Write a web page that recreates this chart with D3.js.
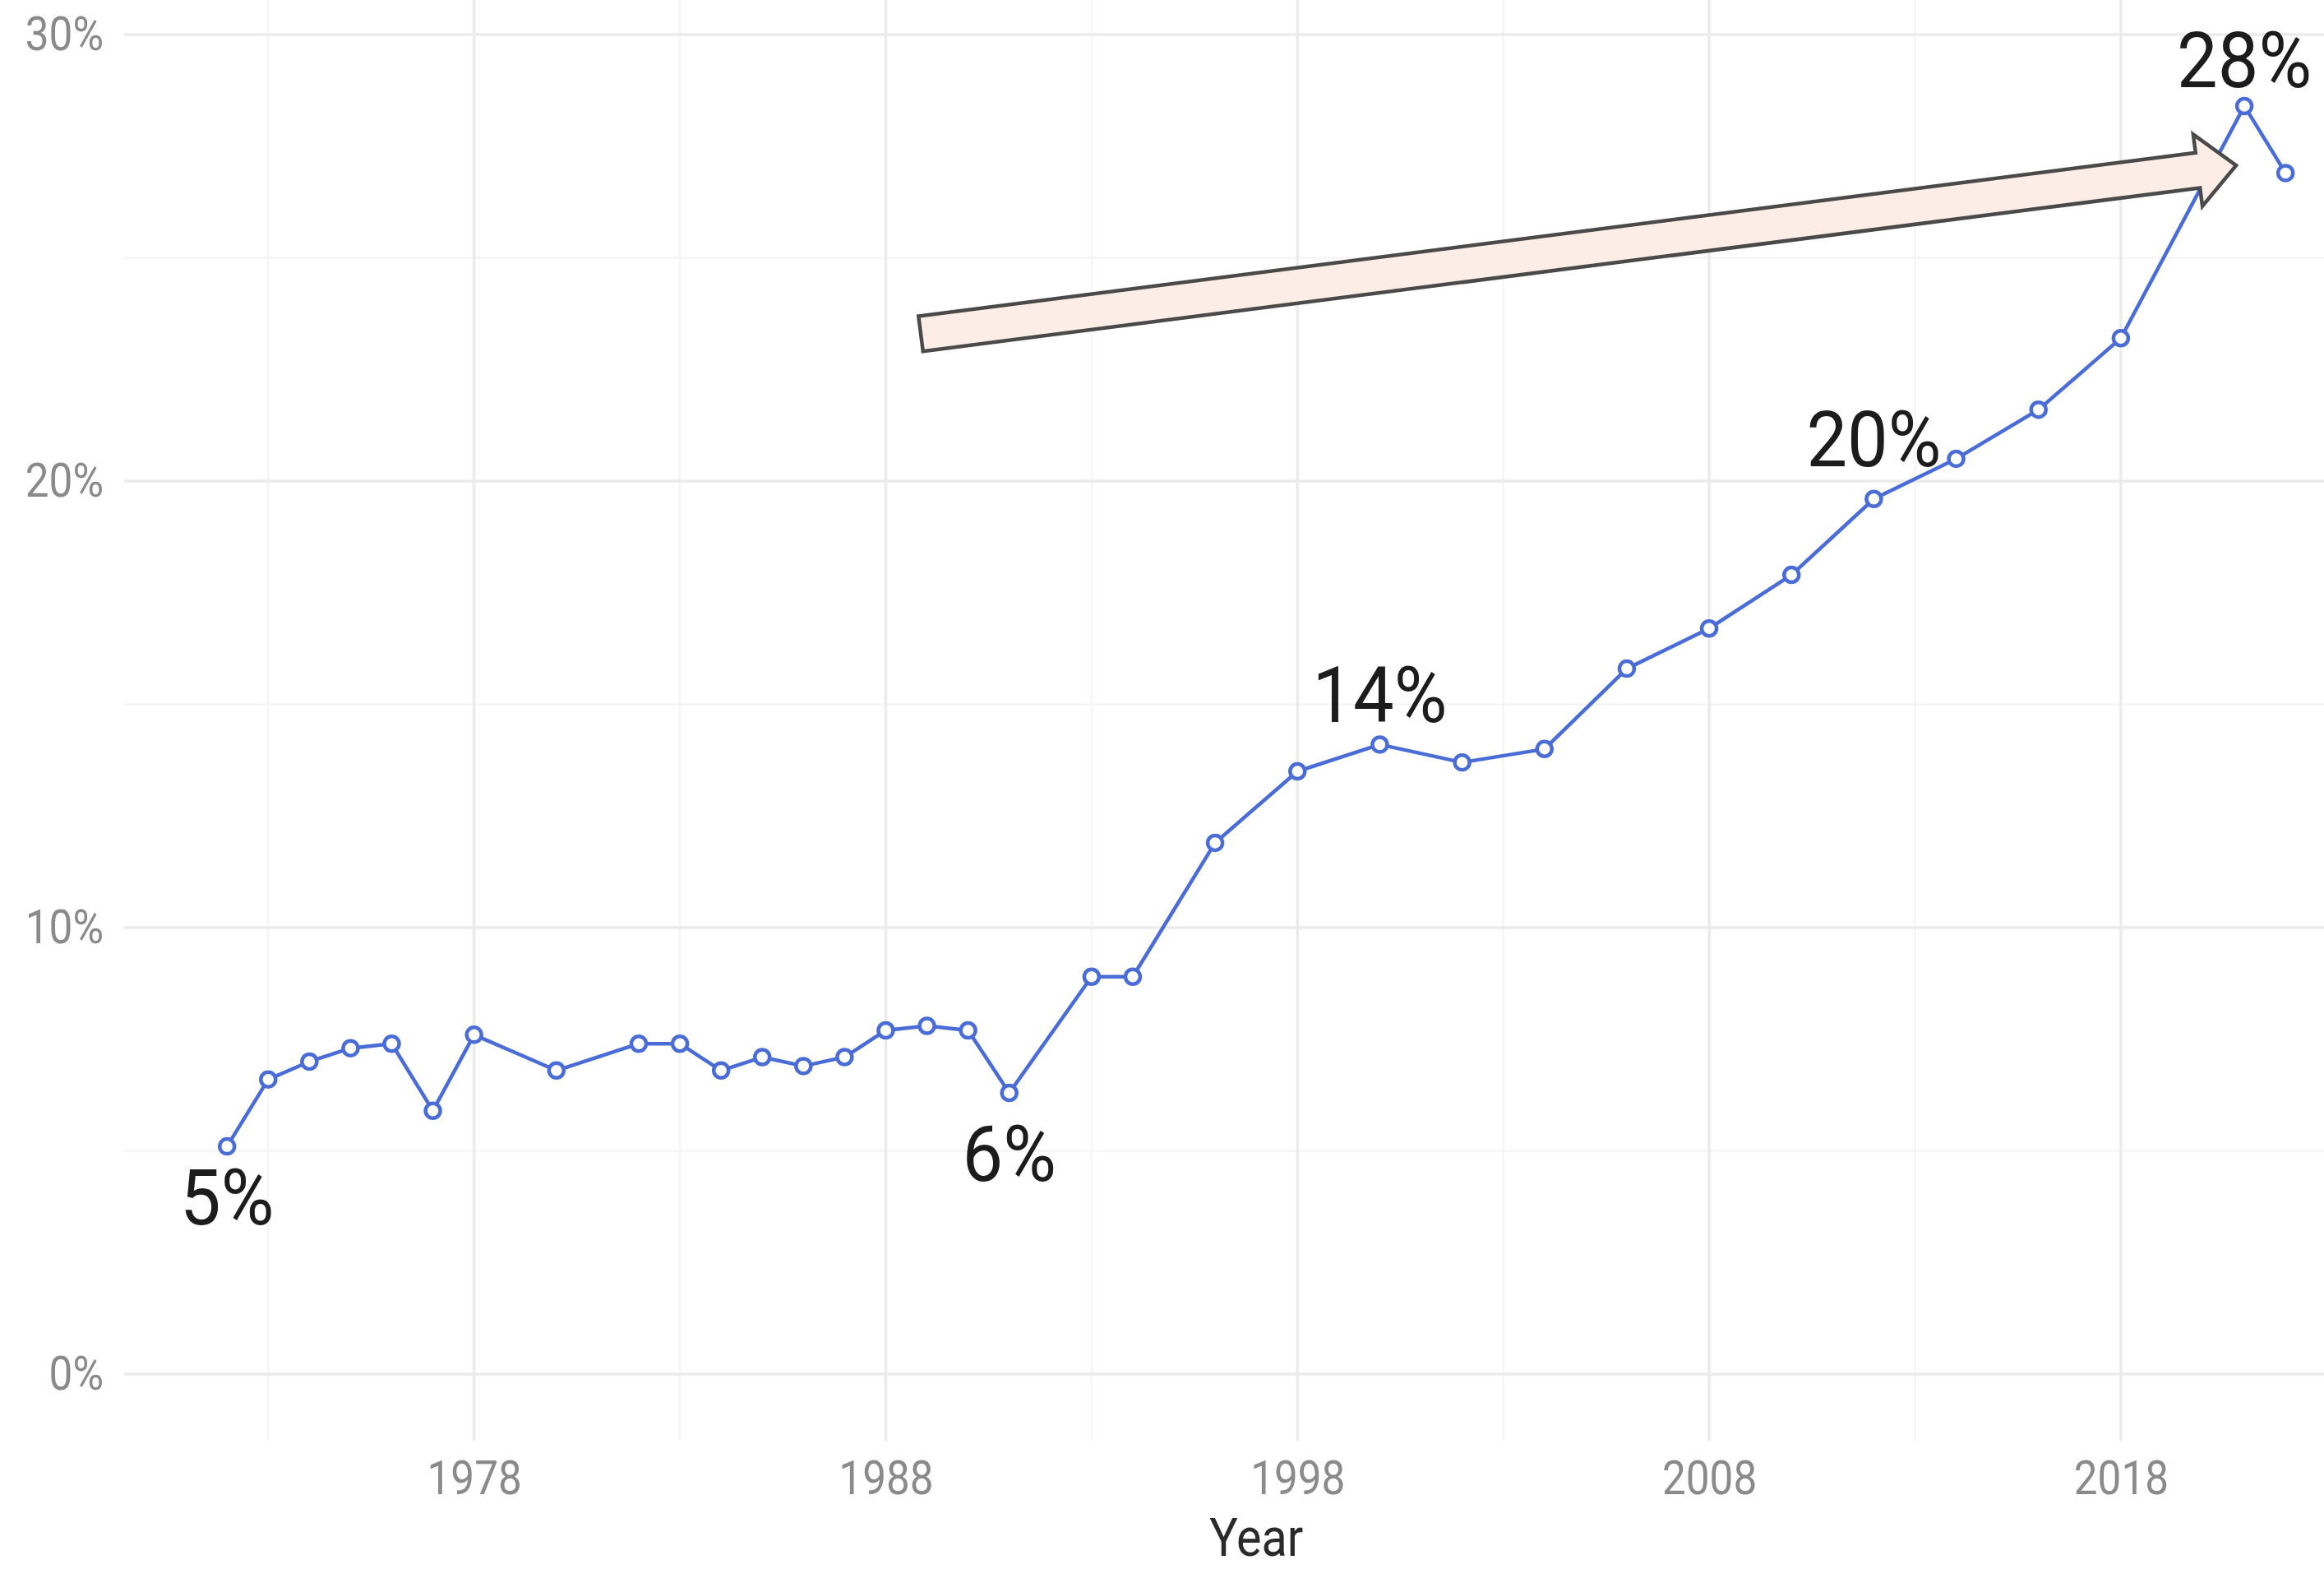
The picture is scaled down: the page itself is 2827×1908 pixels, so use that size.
<!DOCTYPE html>
<html>
<head>
<meta charset="utf-8">
<script src="https://cdn.jsdelivr.net/npm/d3@7"></script>
<style>
  html, body { margin: 0; padding: 0; background: #ffffff; }
  svg { display: block; }
</style>
</head>
<body>
<script>
// ---------- data ----------
const years = [1972,1973,1974,1975,1976,1977,1978,1980,1982,1983,1984,1985,1986,1987,1988,1989,1990,1991,1993,1994,1996,1998,2000,2002,2004,2006,2008,2010,2012,2014,2016,2018,2021,2022];
const shares = [5.1,6.6,7.0,7.3,7.4,5.9,7.6,6.8,7.4,7.4,6.8,7.1,6.9,7.1,7.7,7.8,7.7,6.3,8.9,8.9,11.9,13.5,14.1,13.7,14.0,15.8,16.7,17.9,19.6,20.5,21.6,23.2,28.4,26.9];
const xMajorTicks = [1978,1988,1998,2008,2018];
const xMinorTicks = [1973,1983,1993,2003,2013,2023];
const yMajorTicks = [0,10,20,30];
const yMinorTicks = [5,15,25];
const labelYears = [1972,1991,2000,2012,2021];
const labelTexts = ["5%","6%","14%","20%","28%"];
const labelNudges = [-1.12,-1.35,1.13,1.36,1.05];
const arrowFrom = [1988.85, 23.3];
const arrowTo = [2020.8, 27.07];
const xTitle = "Year";

// ---------- layout ----------
const W = 2827, H = 1908;
const panel = {left: 151, right: 2905.4, top: -39.4, bottom: 1752.5};

const x = d3.scaleLinear().domain([1969.5, 2024.5]).range([panel.left, panel.right]);
const y = d3.scaleLinear().domain([-1.5, 31.5]).range([panel.bottom, panel.top]);

const svg = d3.select("body").append("svg")
  .attr("width", W).attr("height", H)
  .attr("viewBox", `0 0 ${W} ${H}`);

svg.append("rect").attr("width", W).attr("height", H).attr("fill", "#ffffff");

const grid = svg.append("g");
// minor grid
grid.selectAll("line.vminor").data(xMinorTicks).join("line")
  .attr("x1", d => x(d)).attr("x2", d => x(d))
  .attr("y1", panel.top).attr("y2", panel.bottom)
  .attr("stroke", "#f3f3f3").attr("stroke-width", 2);
grid.selectAll("line.hminor").data(yMinorTicks).join("line")
  .attr("x1", panel.left).attr("x2", panel.right)
  .attr("y1", d => y(d)).attr("y2", d => y(d))
  .attr("stroke", "#f3f3f3").attr("stroke-width", 2);
// major grid
grid.selectAll("line.vmajor").data(xMajorTicks).join("line")
  .attr("x1", d => x(d)).attr("x2", d => x(d))
  .attr("y1", panel.top).attr("y2", panel.bottom)
  .attr("stroke", "#ebebeb").attr("stroke-width", 3.5);
grid.selectAll("line.hmajor").data(yMajorTicks).join("line")
  .attr("x1", panel.left).attr("x2", panel.right)
  .attr("y1", d => y(d)).attr("y2", d => y(d))
  .attr("stroke", "#ebebeb").attr("stroke-width", 3.5);

// ---------- axes ----------
const tickFont = 57, tickScale = 0.9;
const xAxis = d3.axisBottom(x).tickValues(xMajorTicks).tickFormat(d3.format("d"))
  .tickSize(0).tickPadding(24);
const gx = svg.append("g").attr("transform", `translate(0,${panel.bottom})`).call(xAxis);
gx.select(".domain").remove();
gx.selectAll("text")
  .attr("font-family", "Roboto, sans-serif").attr("font-size", tickFont)
  .attr("fill", "#8a8a8a")
  .attr("transform", `scale(${tickScale},1)`);

const yPad = 25;
const yAxis = d3.axisLeft(y).tickValues(yMajorTicks).tickFormat(d => d + "%")
  .tickSize(0).tickPadding(yPad);
const gy = svg.append("g").attr("transform", `translate(${panel.left},0)`).call(yAxis);
gy.select(".domain").remove();
gy.selectAll("text")
  .attr("font-family", "Roboto, sans-serif").attr("font-size", tickFont)
  .attr("fill", "#8a8a8a")
  .attr("x", -yPad / tickScale)
  .attr("transform", `scale(${tickScale},1)`);

svg.append("text")
  .attr("transform", `translate(${(panel.left + panel.right) / 2},1892) scale(0.9,1)`)
  .attr("text-anchor", "middle")
  .attr("font-family", "Roboto, sans-serif").attr("font-size", 64)
  .attr("fill", "#2a2a2a")
  .text(xTitle);

// ---------- series ----------
const data = years.map((yr, i) => ({year: yr, value: shares[i]}));
const lineGen = d3.line().x(d => x(d.year)).y(d => y(d.value));
const lineColor = "#4a6cd6";

svg.append("path").datum(data)
  .attr("d", lineGen)
  .attr("fill", "none").attr("stroke", lineColor)
  .attr("stroke-width", 4.5).attr("stroke-linejoin", "round");

svg.append("g").selectAll("circle").data(data).join("circle")
  .attr("cx", d => x(d.year)).attr("cy", d => y(d.value))
  .attr("r", 9)
  .attr("fill", "#ffffff").attr("stroke", lineColor).attr("stroke-width", 4.5);

// ---------- arrow ----------
(function drawArrow() {
  const p0 = [x(arrowFrom[0]), y(arrowFrom[1])];
  const tip = [x(arrowTo[0]), y(arrowTo[1])];
  const dx = tip[0] - p0[0], dy = tip[1] - p0[1];
  const len = Math.hypot(dx, dy);
  const u = [dx / len, dy / len];
  const n = [-u[1], u[0]];
  const hw = 21.5, hh = 44, hl = 47;
  const s = [tip[0] - u[0] * hl, tip[1] - u[1] * hl];
  const pt = (p, k) => [p[0] + n[0] * k, p[1] + n[1] * k];
  const pts = [pt(p0, -hw), pt(s, -hw), pt(s, -hh), tip, pt(s, hh), pt(s, hw), pt(p0, hw)];
  svg.append("path")
    .attr("d", "M" + pts.map(p => p.join(",")).join("L") + "Z")
    .attr("fill", "#fcede7").attr("stroke", "#4a4a4a")
    .attr("stroke-width", 4.5).attr("stroke-linejoin", "miter");
})();

// ---------- annotations ----------
const annos = labelYears.map((yr, i) => ({
  year: yr,
  value: shares[years.indexOf(yr)] + labelNudges[i],
  text: labelTexts[i]
}));
svg.append("g").selectAll("text").data(annos).join("text")
  .attr("transform", d => `translate(${x(d.year)},${y(d.value)}) scale(0.93,1)`)
  .attr("dy", "0.36em")
  .attr("text-anchor", "middle")
  .attr("font-family", "Roboto, sans-serif").attr("font-size", 95)
  .attr("fill", "#1c1c1c")
  .text(d => d.text);
</script>
</body>
</html>
